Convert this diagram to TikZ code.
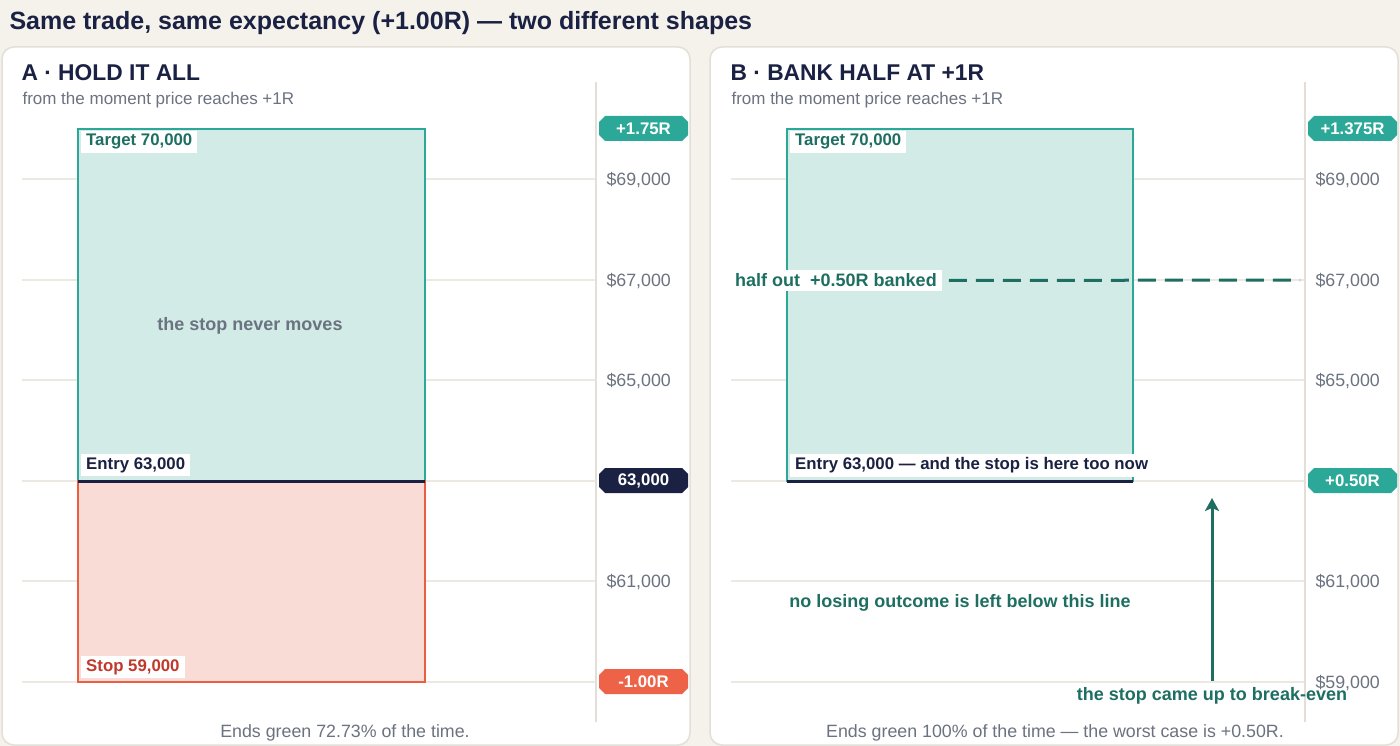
\documentclass[tikz,border=0pt]{standalone}
\usepackage{fontspec}
\setmainfont{Liberation Sans}
\usetikzlibrary{shapes.misc,arrows.meta}
\definecolor{pagebg}{HTML}{F5F2EC}
\definecolor{panelline}{HTML}{E3DFD6}
\definecolor{gridline}{HTML}{ECE9E3}
\definecolor{navy}{HTML}{1A2142}
\definecolor{slate}{HTML}{6B7280}
\definecolor{teal}{HTML}{2BA897}
\definecolor{tealfill}{HTML}{D2EBE7}
\definecolor{tealdark}{HTML}{1E6F62}
\definecolor{redfill}{HTML}{F9DCD5}
\definecolor{redline}{HTML}{EA5F42}
\definecolor{redtext}{HTML}{C0392B}
\definecolor{redtag}{HTML}{EE6347}

\tikzset{
  tag/.style={chamfered rectangle, chamfered rectangle xsep=3pt, chamfered rectangle ysep=3pt,
    minimum width=89pt, minimum height=25pt, inner sep=0pt, text=white,
    font=\fontsize{16.8}{19}\selectfont\bfseries},
  price/.style={anchor=west, text=slate, font=\fontsize{17.8}{20}\selectfont},
  boxlabel/.style={anchor=north west, fill=white, inner xsep=5pt, inner ysep=3.5pt,
    font=\fontsize{16.8}{19}\selectfont\bfseries},
  note/.style={text=tealdark, font=\fontsize{18}{21}\selectfont\bfseries},
}

\begin{document}
\begin{tikzpicture}[x=1pt,y=-1pt]
  \useasboundingbox (0,0) rectangle (1400,746);
  \fill[pagebg] (0,0) rectangle (1400,746);
  \node[anchor=west, text=navy, font=\fontsize{25}{29}\selectfont\bfseries] (title) at (6,23)
    {Same trade, same expectancy (+1.00R) — two different shapes};

  % panel A
  \draw[fill=white, draw=panelline, line width=1.5pt, rounded corners=12pt] (2,47) rectangle (690,745);
  \node[anchor=west, text=navy, font=\fontsize{22.8}{26}\selectfont\bfseries] (headA) at (18,73) {A · HOLD IT ALL};
  \node[anchor=west, text=slate, font=\fontsize{17}{20}\selectfont] (subA) at (19,100) {from the moment price reaches +1R};
  \foreach \y in {179,280,380,481,581,682}
    \draw[gridline, line width=1.5pt] (22,\y) -- (596,\y);
  \draw[panelline, line width=2pt] (596,82) -- (596,722);
  \foreach \y/\p in {179/69,280/67,380/65,581/61}
    \node[price] (pA\p) at (603,\y+1.5) {\$\p,000};
  \draw[fill=tealfill, draw=teal, line width=1.5pt] (78,129) rectangle (425,481);
  \draw[fill=redfill, draw=redline, line width=1.5pt] (78,481) rectangle (425,682);
  \draw[navy, line width=3pt] (78,481) -- (425,481);
  \node[boxlabel, text=tealdark] (targetA) at (81,130.5) {Target 70,000};
  \node[boxlabel, text=navy] (entryA) at (81,454) {Entry 63,000};
  \node[boxlabel, text=redtext] (stopA) at (81,656) {Stop 59,000};
  \node[text=slate, font=\fontsize{18}{21}\selectfont\bfseries] (neverA) at (250,326) {the stop never moves};
  \node[tag, fill=teal] (tagtopA) at (643.5,128.5) {+1.75R};
  \node[tag, fill=navy] (tagentryA) at (643.5,480.5) {63,000};
  \node[tag, fill=redtag] (tagstopA) at (643.5,681.5) {-1.00R};
  \node[text=slate, font=\fontsize{17.8}{20}\selectfont] (footA) at (345,732.5) {Ends green 72.73\% of the time.};

  % panel B
  \draw[fill=white, draw=panelline, line width=1.5pt, rounded corners=12pt] (710,47) rectangle (1398,745);
  \node[anchor=west, text=navy, font=\fontsize{22.8}{26}\selectfont\bfseries] (headB) at (727,73) {B · BANK HALF AT +1R};
  \node[anchor=west, text=slate, font=\fontsize{17}{20}\selectfont] (subB) at (728,100) {from the moment price reaches +1R};
  \foreach \y in {179,280,380,481,581,682}
    \draw[gridline, line width=1.5pt] (731,\y) -- (1305,\y);
  \draw[panelline, line width=2pt] (1305,82) -- (1305,722);
  \foreach \y/\p in {179/69,280/67,380/65,581/61,682/59}
    \node[price] (pB\p) at (1312,\y+1.5) {\$\p,000};
  \draw[fill=tealfill, draw=teal, line width=1.5pt] (787,129) rectangle (1133,481);
  \draw[navy, line width=3pt] (787,481) -- (1133,481);
  \node[boxlabel, text=tealdark] (targetB) at (790,130.5) {Target 70,000};
  \node[boxlabel, text=navy] (entryB) at (790,454) {Entry 63,000 — and the stop is here too now};
  \node[boxlabel, text=tealdark, anchor=west, font=\fontsize{18}{21}\selectfont\bfseries] (halfB) at (730,280.5) {half out\ \ +0.50R banked};
  \coordinate (dashend) at (1300,280);
  \draw[tealdark, line width=3pt, dash pattern=on 18pt off 9pt] (halfB.east) ++(7,0) -- (dashend);
  \node[tag, fill=teal] (tagtopB) at (1352.5,128.5) {+1.375R};
  \node[tag, fill=teal] (tagentryB) at (1352.5,480.5) {+0.50R};
  \node[note] (nolossB) at (960,603) {no losing outcome is left below this line};
  \node[note] (breakB) at (1212,696) {the stop came up to break-even};
  \coordinate (arrowtip) at (1212,498);
  \draw[tealdark, line width=3pt, -{Stealth[length=13pt,width=14pt,inset=3pt]}] (breakB.north) ++(0,-3) -- (arrowtip);
  \node[text=slate, font=\fontsize{17.8}{20}\selectfont] (footB) at (1055,732.5) {Ends green 100\% of the time — the worst case is +0.50R.};
\end{tikzpicture}
\end{document}
